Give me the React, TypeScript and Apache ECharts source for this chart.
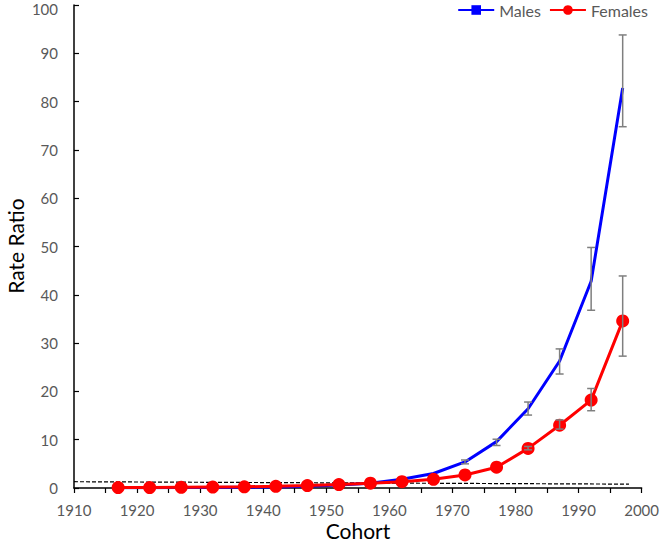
import React, { useEffect, useRef } from "react";
import * as echarts from "echarts";

const cohorts = [1917, 1922, 1927, 1932, 1937, 1942, 1947, 1952, 1957, 1962, 1967, 1972, 1977, 1982, 1987, 1992, 1997];
const males = [0.05, 0.06, 0.08, 0.1, 0.15, 0.2, 0.35, 0.6, 1.0, 1.8, 3.0, 5.4, 9.6, 16.4, 26.3, 42.8, 82.8];
const females = [0.1, 0.1, 0.15, 0.2, 0.25, 0.35, 0.5, 0.7, 1.0, 1.3, 1.8, 2.7, 4.3, 8.2, 13.0, 18.2, 34.6];

// [cohort, low, high]
const maleErrors = [
  [1972, 5.0, 5.8],
  [1977, 8.8, 10.1],
  [1982, 15.1, 17.8],
  [1987, 23.6, 28.8],
  [1992, 36.8, 49.8],
  [1997, 74.8, 93.8],
];
const femaleErrors = [
  [1982, 7.9, 8.6],
  [1987, 12.2, 14.1],
  [1992, 16.0, 20.6],
  [1997, 27.3, 43.9],
];

const referenceLine = [
  [1910, 1.3],
  [1998, 0.8],
];

const xTicks = { min: 1910, max: 2000, step: 5 };
const yTicks = { min: 0, max: 100, step: 10 };

const FONT = "Lato, 'Noto Sans', sans-serif";

function errorRender(params: any, api: any) {
  const x = api.value(0);
  const lo = api.value(1);
  const hi = api.value(2);
  const top = api.coord([x, hi]);
  const bot = api.coord([x, lo]);
  const cap = 4;
  const style = { stroke: "#7f7f7f", lineWidth: 1.5 };
  return {
    type: "group",
    children: [
      { type: "line", shape: { x1: top[0], y1: top[1], x2: bot[0], y2: bot[1] }, style },
      { type: "line", shape: { x1: top[0] - cap, y1: top[1], x2: top[0] + cap, y2: top[1] }, style },
      { type: "line", shape: { x1: bot[0] - cap, y1: bot[1], x2: bot[0] + cap, y2: bot[1] }, style },
    ],
  };
}

export default function App() {
  const ref = useRef<HTMLDivElement>(null);
  useEffect(() => {
    if (!ref.current) return;
    const chart = echarts.init(ref.current, undefined, { renderer: "svg" });
    chart.setOption({
      animation: false,
      backgroundColor: "#ffffff",
      grid: { left: 74, right: 17, top: 5, bottom: 62, containLabel: false },
      legend: {
        top: 2,
        right: 14,
        padding: 0,
        itemWidth: 36,
        itemHeight: 12,
        itemGap: 8,
        data: ["Males", "Females"],
        textStyle: { color: "#595959", fontSize: 16, fontFamily: FONT },
      },
      xAxis: {
        type: "value",
        min: xTicks.min,
        max: xTicks.max,
        interval: xTicks.step,
        splitLine: { show: false },
        axisLine: { onZero: false, lineStyle: { color: "#000000", width: 1.5 } },
        axisTick: { show: true, inside: false, length: 5, lineStyle: { color: "#000000", width: 1.2 } },
        axisLabel: {
          color: "#595959",
          fontSize: 15,
          fontFamily: FONT,
          margin: 14,
          formatter: (v: number) => (v % 10 === 0 ? String(v) : ""),
        },
      },
      yAxis: {
        type: "value",
        min: yTicks.min,
        max: yTicks.max,
        interval: yTicks.step,
        splitLine: { show: false },
        axisLine: { show: true, lineStyle: { color: "#000000", width: 1.5 } },
        axisTick: { show: true, inside: true, length: 5, lineStyle: { color: "#000000", width: 1.2 } },
        axisLabel: {
          color: "#595959",
          fontSize: 15,
          fontFamily: FONT,
          margin: 16,
          formatter: (v: number) => (v === yTicks.max ? "{t|" + v + "}" : String(v)),
          rich: { t: { color: "#595959", fontSize: 15, fontFamily: FONT, padding: [7, 0, 0, 0] } },
        },
      },
      graphic: [
        {
          type: "text",
          x: 358,
          y: 530,
          style: { text: "Cohort", fontSize: 21, fontFamily: FONT, fill: "#000000", align: "center", verticalAlign: "middle" },
        },
        {
          type: "text",
          x: 15,
          y: 246,
          rotation: Math.PI / 2,
          style: { text: "Rate Ratio", fontSize: 21, fontFamily: FONT, fill: "#000000", align: "center", verticalAlign: "middle" },
        },
      ],
      series: [
        {
          name: "ref",
          type: "line",
          data: referenceLine,
          symbol: "none",
          silent: true,
          lineStyle: { color: "#000000", width: 1.2, type: [4, 2] },
          z: 1,
        },
        {
          name: "Males",
          type: "line",
          data: cohorts.map((c, i) => [c, males[i]]),
          symbol: "rect",
          symbolSize: 8,
          showSymbol: false,
          color: "#0000ff",
          lineStyle: { color: "#0000ff", width: 3 },
          itemStyle: { color: "#0000ff" },
          z: 2,
        },
        {
          name: "Females",
          type: "line",
          data: cohorts.map((c, i) => [c, females[i]]),
          symbol: "circle",
          symbolSize: 13,
          color: "#ff0000",
          lineStyle: { color: "#ff0000", width: 3 },
          itemStyle: { color: "#ff0000" },
          z: 3,
        },
        {
          name: "maleErr",
          type: "custom",
          renderItem: errorRender,
          data: maleErrors,
          encode: { x: 0, y: [1, 2] },
          silent: true,
          z: 4,
        },
        {
          name: "femaleErr",
          type: "custom",
          renderItem: errorRender,
          data: femaleErrors,
          encode: { x: 0, y: [1, 2] },
          silent: true,
          z: 4,
        },
      ],
    });
    return () => chart.dispose();
  }, []);
  return <div ref={ref} style={{ width: 662, height: 550, position: "absolute", left: 0, top: 0 }} />;
}
